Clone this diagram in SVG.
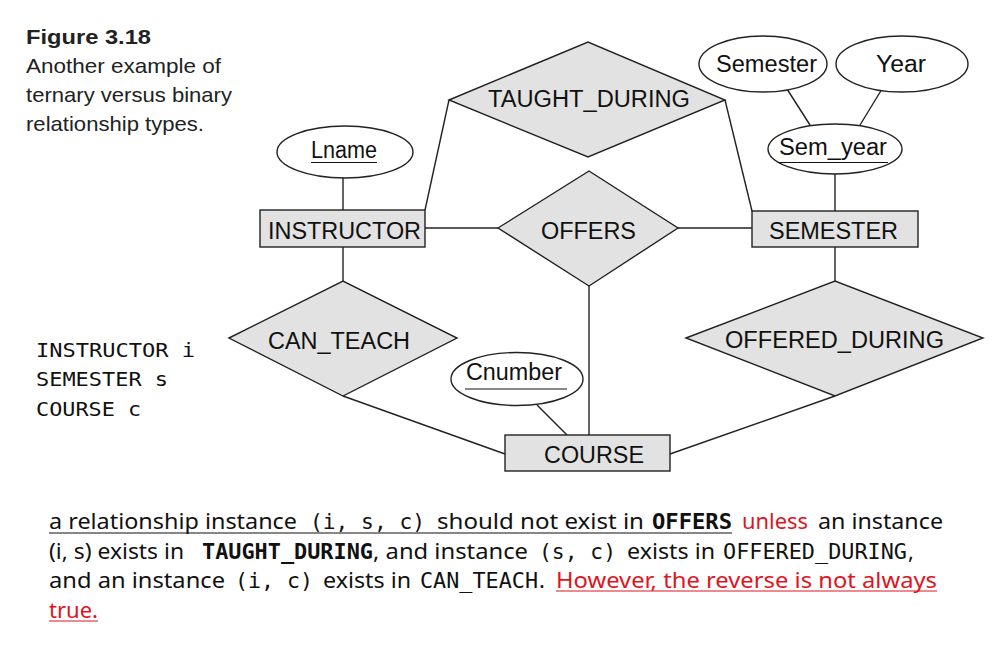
<svg xmlns="http://www.w3.org/2000/svg" width="1001" height="648" viewBox="0 0 1001 648">
<style>
.shape{fill:#e2e2e2;stroke:#222;stroke-width:1.4}
.attr{fill:#fff;stroke:#222;stroke-width:1.4}
.lbl{font-family:"Liberation Sans",Arial,sans-serif;font-size:23.5px;fill:#111;text-anchor:middle}
.ln{stroke:#222;stroke-width:1.4;fill:none}
.ul{stroke:#111;stroke-width:1.2}
.cap{font-family:"Liberation Sans",Arial,sans-serif;font-size:21px;fill:#222}
.mono{font-family:"DejaVu Sans Mono","Liberation Mono",monospace;font-size:20px;fill:#111}
.p{font-family:"Noto Sans","Open Sans",sans-serif;font-size:22px;fill:#111}
.pm{font-family:"DejaVu Sans Mono","Liberation Mono",monospace;font-size:21px;fill:#111}
.b{font-weight:bold}
.red{fill:#e0141e}
</style>
<rect width="1001" height="648" fill="#fff"/>
<g id="caption">
<text class="cap b" x="26" y="44" textLength="125" lengthAdjust="spacingAndGlyphs">Figure 3.18</text>
<text class="cap" x="26" y="73" textLength="195" lengthAdjust="spacingAndGlyphs">Another example of</text>
<text class="cap" x="26" y="102" textLength="206" lengthAdjust="spacingAndGlyphs">ternary versus binary</text>
<text class="cap" x="26" y="131" textLength="178" lengthAdjust="spacingAndGlyphs">relationship types.</text>
</g>
<g id="connectors">
<line class="ln" x1="343" y1="178" x2="343" y2="210"/>
<line class="ln" x1="449" y1="100" x2="425" y2="210"/>
<line class="ln" x1="725" y1="100" x2="752" y2="211"/>
<line class="ln" x1="425" y1="228" x2="498" y2="228"/>
<line class="ln" x1="678" y1="228" x2="752" y2="228"/>
<line class="ln" x1="787" y1="89" x2="810" y2="125"/>
<line class="ln" x1="882" y1="89" x2="860" y2="125"/>
<line class="ln" x1="835" y1="174" x2="835" y2="211"/>
<line class="ln" x1="835" y1="247" x2="835" y2="281"/>
<line class="ln" x1="343" y1="247" x2="343" y2="281"/>
<line class="ln" x1="343" y1="396" x2="505" y2="454"/>
<line class="ln" x1="835" y1="396" x2="670" y2="454"/>
<line class="ln" x1="589" y1="286" x2="589" y2="435"/>
<line class="ln" x1="537" y1="405" x2="567" y2="435"/>
</g>
<g id="Lname">
<ellipse class="attr" cx="345" cy="152" rx="68" ry="26"/>
<text class="lbl" x="344" y="158" textLength="66" lengthAdjust="spacingAndGlyphs">Lname</text>
<line class="ul" x1="311" y1="162.5" x2="377" y2="162.5"/>
</g>
<g id="INSTRUCTOR">
<rect class="shape" x="260" y="210" width="165" height="37"/>
<text class="lbl" x="344.5" y="239" textLength="153" lengthAdjust="spacingAndGlyphs">INSTRUCTOR</text>
</g>
<g id="TAUGHT_DURING">
<polygon class="shape" points="449,100 588,42 725,100 588,157"/>
<text class="lbl" x="589" y="107" textLength="202" lengthAdjust="spacingAndGlyphs">TAUGHT_DURING</text>
</g>
<g id="OFFERS">
<polygon class="shape" points="498,228 589,171 678,228 589,286"/>
<text class="lbl" x="588.5" y="239" textLength="95" lengthAdjust="spacingAndGlyphs">OFFERS</text>
</g>
<g id="Semester">
<ellipse class="attr" cx="763" cy="64" rx="64" ry="28"/>
<text class="lbl" x="766.5" y="72" textLength="101" lengthAdjust="spacingAndGlyphs">Semester</text>
</g>
<g id="Year">
<ellipse class="attr" cx="902" cy="64" rx="66" ry="28"/>
<text class="lbl" x="901" y="72" textLength="50" lengthAdjust="spacingAndGlyphs">Year</text>
</g>
<g id="Sem_year">
<ellipse class="attr" cx="835" cy="149" rx="67" ry="25"/>
<text class="lbl" x="833" y="155" textLength="108" lengthAdjust="spacingAndGlyphs">Sem_year</text>
<line class="ul" x1="779" y1="162.5" x2="888" y2="162.5"/>
</g>
<g id="SEMESTER">
<rect class="shape" x="752" y="211" width="166" height="36"/>
<text class="lbl" x="833.5" y="239" textLength="129" lengthAdjust="spacingAndGlyphs">SEMESTER</text>
</g>
<g id="CAN_TEACH">
<polygon class="shape" points="229,338 343,281 457,338 343,396"/>
<text class="lbl" x="339" y="349" textLength="142" lengthAdjust="spacingAndGlyphs">CAN_TEACH</text>
</g>
<g id="OFFERED_DURING">
<polygon class="shape" points="686,338 835,281 983,338 835,396"/>
<text class="lbl" x="834.5" y="348" textLength="219" lengthAdjust="spacingAndGlyphs">OFFERED_DURING</text>
</g>
<g id="Cnumber">
<ellipse class="attr" cx="517" cy="379" rx="66" ry="26.5"/>
<text class="lbl" x="514" y="380" textLength="96" lengthAdjust="spacingAndGlyphs">Cnumber</text>
<line class="ul" x1="465" y1="389" x2="567" y2="389"/>
</g>
<g id="COURSE">
<rect class="shape" x="505" y="435" width="165" height="36"/>
<text class="lbl" x="594" y="463" textLength="100" lengthAdjust="spacingAndGlyphs">COURSE</text>
</g>
<g id="legend">
<text class="mono" x="36" y="357" textLength="159" lengthAdjust="spacingAndGlyphs">INSTRUCTOR i</text>
<text class="mono" x="36" y="386" textLength="132" lengthAdjust="spacingAndGlyphs">SEMESTER s</text>
<text class="mono" x="36" y="416" textLength="105" lengthAdjust="spacingAndGlyphs">COURSE c</text>
</g>
<g id="note">
<text class="p" x="49" y="529" textLength="248" lengthAdjust="spacingAndGlyphs">a relationship instance</text>
<text class="pm" x="310" y="529" textLength="115" lengthAdjust="spacingAndGlyphs">(i, s, c)</text>
<text class="p" x="437" y="529" textLength="207" lengthAdjust="spacingAndGlyphs">should not exist in</text>
<text class="pm b" x="652" y="529" textLength="80" lengthAdjust="spacingAndGlyphs">OFFERS</text>
<text class="p red" x="742" y="529" textLength="66" lengthAdjust="spacingAndGlyphs">unless</text>
<text class="p" x="818" y="529" textLength="125" lengthAdjust="spacingAndGlyphs">an instance</text>
<line class="ul" x1="49" y1="533" x2="732" y2="533"/>
<text class="p" x="49" y="559" textLength="135" lengthAdjust="spacingAndGlyphs">(i, s) exists in</text>
<text class="pm b" x="202" y="559" textLength="171" lengthAdjust="spacingAndGlyphs">TAUGHT_DURING</text>
<text class="p" x="373" y="559" textLength="155" lengthAdjust="spacingAndGlyphs">, and instance</text>
<text class="pm" x="539" y="559" textLength="77" lengthAdjust="spacingAndGlyphs">(s, c)</text>
<text class="p" x="627" y="559" textLength="88" lengthAdjust="spacingAndGlyphs">exists in</text>
<text class="pm" x="723" y="559" textLength="184" lengthAdjust="spacingAndGlyphs">OFFERED_DURING</text>
<text class="p" x="908" y="559">,</text>
<text class="p" x="49" y="588" textLength="176" lengthAdjust="spacingAndGlyphs">and an instance</text>
<text class="pm" x="235" y="588" textLength="78" lengthAdjust="spacingAndGlyphs">(i, c)</text>
<text class="p" x="323" y="588" textLength="88" lengthAdjust="spacingAndGlyphs">exists in</text>
<text class="pm" x="420" y="588" textLength="118" lengthAdjust="spacingAndGlyphs">CAN_TEACH</text>
<text class="p" x="539" y="588">.</text>
<text class="p red" x="556" y="588" textLength="381" lengthAdjust="spacingAndGlyphs">However, the reverse is not always</text>
<line class="ul" x1="556" y1="591" x2="937" y2="591" style="stroke:#e0141e"/>
<text class="p red" x="49" y="618" textLength="49" lengthAdjust="spacingAndGlyphs">true.</text>
<line class="ul" x1="49" y1="621" x2="98" y2="621" style="stroke:#e0141e"/>
</g>
</svg>
